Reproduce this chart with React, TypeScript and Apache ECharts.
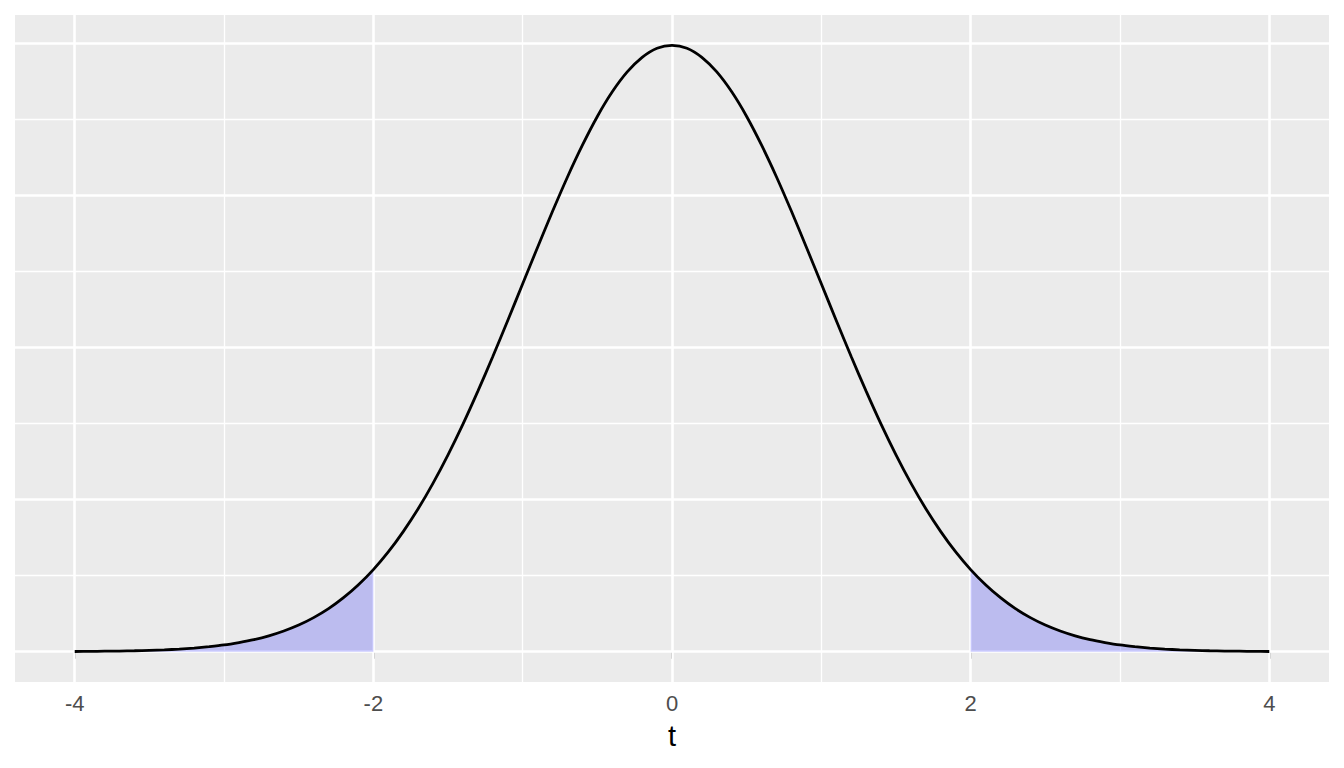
import React, { useEffect, useRef } from "react";
import * as echarts from "echarts";

// t values (x axis) and density
const tValues = [
  -4.0, -3.9, -3.8, -3.7, -3.6, -3.5, -3.4, -3.3, -3.2, -3.1,
  -3.0, -2.9, -2.8, -2.7, -2.6, -2.5, -2.4, -2.3, -2.2, -2.1,
  -2.0, -1.9, -1.8, -1.7, -1.6, -1.5, -1.4, -1.3, -1.2, -1.1,
  -1.0, -0.9, -0.8, -0.7, -0.6, -0.5, -0.4, -0.3, -0.2, -0.1,
  0.0, 0.1, 0.2, 0.3, 0.4, 0.5, 0.6, 0.7, 0.8, 0.9,
  1.0, 1.1, 1.2, 1.3, 1.4, 1.5, 1.6, 1.7, 1.8, 1.9,
  2.0, 2.1, 2.2, 2.3, 2.4, 2.5, 2.6, 2.7, 2.8, 2.9,
  3.0, 3.1, 3.2, 3.3, 3.4, 3.5, 3.6, 3.7, 3.8, 3.9, 4.0,
];

const density = [
  0.0001, 0.0002, 0.0003, 0.0004, 0.0006, 0.0009, 0.0012, 0.0017, 0.0024, 0.0033,
  0.0044, 0.006, 0.0079, 0.0104, 0.0136, 0.0175, 0.0224, 0.0283, 0.0355, 0.044,
  0.054, 0.0656, 0.079, 0.094, 0.1109, 0.1295, 0.1497, 0.1714, 0.1942, 0.2179,
  0.242, 0.2661, 0.2897, 0.3123, 0.3332, 0.3521, 0.3683, 0.3814, 0.391, 0.397,
  0.3989, 0.397, 0.391, 0.3814, 0.3683, 0.3521, 0.3332, 0.3123, 0.2897, 0.2661,
  0.242, 0.2179, 0.1942, 0.1714, 0.1497, 0.1295, 0.1109, 0.094, 0.079, 0.0656,
  0.054, 0.044, 0.0355, 0.0283, 0.0224, 0.0175, 0.0136, 0.0104, 0.0079, 0.006,
  0.0044, 0.0033, 0.0024, 0.0017, 0.0012, 0.0009, 0.0006, 0.0004, 0.0003, 0.0002, 0.0001,
];

const criticalT = 2;

const xTickLabels = [-4, -2, 0, 2, 4];
const xMajorGrid = [-4, -2, 0, 2, 4];
const xMinorGrid = [-3, -1, 1, 3];
const yMajorGrid = [0, 0.1, 0.2, 0.3, 0.4];
const yMinorGrid = [0.05, 0.15, 0.25, 0.35];

const xRange = [-4.4, 4.4];
const yRange = [-0.01995, 0.41885];

export default function App() {
  const ref = useRef<HTMLDivElement>(null);

  useEffect(() => {
    document.body.style.margin = "0";
    if (!ref.current) return;
    const chart = echarts.init(ref.current, undefined, { renderer: "svg" });

    const curve = tValues.map((t, i) => [t, density[i]]);
    const leftTail = curve.filter((p) => p[0] <= -criticalT);
    const rightTail = curve.filter((p) => p[0] >= criticalT);

    const gridLines = [
      ...xMajorGrid.map((v) => ({ xAxis: v, lineStyle: { width: 2.6 } })),
      ...xMinorGrid.map((v) => ({ xAxis: v, lineStyle: { width: 1.3 } })),
      ...yMajorGrid.map((v) => ({ yAxis: v, lineStyle: { width: 2.6 } })),
      ...yMinorGrid.map((v) => ({ yAxis: v, lineStyle: { width: 1.3 } })),
    ];

    const tailStyle = {
      type: "line" as const,
      showSymbol: false,
      symbol: "none",
      smooth: 0.3,
      lineStyle: { width: 0 },
      areaStyle: { color: "rgba(0,0,255,0.2)", opacity: 1 },
      z: 2,
      silent: true,
    };

    chart.setOption({
      animation: false,
      backgroundColor: "#FFFFFF",
      grid: {
        left: 15,
        right: 15,
        top: 15,
        bottom: 86,
        show: true,
        backgroundColor: "#EBEBEB",
        borderWidth: 0,
        outerBoundsMode: "none",
      },
      xAxis: {
        type: "value",
        min: xRange[0],
        max: xRange[1],
        name: "t",
        nameLocation: "middle",
        nameGap: 39,
        nameTextStyle: {
          fontSize: 29,
          color: "#000000",
          fontFamily: "Liberation Sans",
        },
        axisLine: { show: false },
        splitLine: { show: false },
        axisTick: {
          show: true,
          customValues: xTickLabels,
          length: 7,
          lineStyle: { color: "#333333", width: 2 },
        },
        axisLabel: {
          show: true,
          customValues: xTickLabels,
          margin: 10,
          fontSize: 22,
          color: "#4D4D4D",
          fontFamily: "Liberation Sans",
          formatter: (v: number) => String(v),
        },
      },
      yAxis: {
        type: "value",
        min: yRange[0],
        max: yRange[1],
        axisLine: { show: false },
        axisTick: { show: false },
        axisLabel: { show: false },
        splitLine: { show: false },
      },
      series: [
        {
          type: "line",
          data: [],
          silent: true,
          markLine: {
            silent: true,
            z: 1,
            symbol: ["none", "none"],
            label: { show: false },
            emphasis: { disabled: true },
            lineStyle: { color: "#FFFFFF", type: "solid" },
            data: gridLines,
          },
        },
        { ...tailStyle, data: leftTail },
        { ...tailStyle, data: rightTail },
        {
          type: "line",
          data: curve,
          showSymbol: false,
          symbol: "none",
          smooth: 0.3,
          lineStyle: { color: "#000000", width: 2.8 },
          z: 3,
          silent: true,
        },
      ],
    });

    return () => chart.dispose();
  }, []);

  return (
    <div
      ref={ref}
      style={{ position: "fixed", left: 0, top: 0, width: 1344, height: 768 }}
    />
  );
}
